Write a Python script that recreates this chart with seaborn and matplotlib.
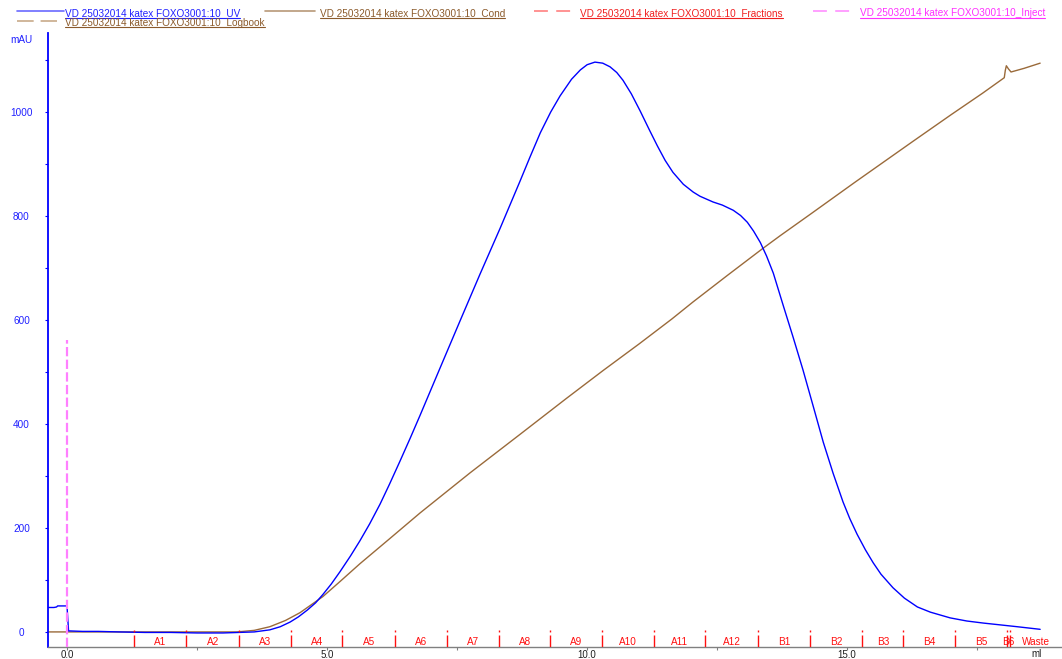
import matplotlib
matplotlib.use("Agg")
import matplotlib.pyplot as plt
from matplotlib.lines import Line2D
from matplotlib.transforms import IdentityTransform
from matplotlib.ticker import MultipleLocator, FixedLocator
import seaborn as sns
import pandas as pd

# ---- chromatogram data -------------------------------------------------
# UV absorbance trace (elution volume in ml, absorbance in mAU)
uv_ml = [-0.365, -0.25, -0.2, -0.18, -0.01, 0.0, 0.03, 0.3, 0.6, 1.0, 1.5,
         2.0, 2.5, 3.0, 3.3, 3.6, 3.9, 4.1, 4.29, 4.45, 4.62, 4.78, 4.92, 5.08,
         5.25, 5.45, 5.63, 5.82, 6.02, 6.20, 6.40, 6.60, 6.79, 7.17, 7.56,
         7.94, 8.33, 8.71, 8.90, 9.10, 9.30, 9.48, 9.70, 9.87, 10.0, 10.15,
         10.30, 10.44, 10.57, 10.69, 10.85, 11.02, 11.20, 11.35, 11.50, 11.65,
         11.85, 12.04, 12.17, 12.42, 12.60, 12.81, 12.95, 13.08, 13.20, 13.33,
         13.45, 13.58, 13.77, 13.96, 14.15, 14.35, 14.54, 14.73, 14.92, 15.05,
         15.19, 15.35, 15.50, 15.65, 15.88, 16.10, 16.35, 16.60, 16.98, 17.30,
         17.62, 17.90, 18.27, 18.71]
uv_mau = [47, 47, 48, 50, 50, 50, 2, 1, 1, 0, -1,
          -1, -2, -2, -1, 0, 4, 10, 19, 29, 42, 56, 72, 92,
          116, 146, 175, 208, 246, 284, 328, 373, 417, 507, 599,
          688, 777, 867, 913, 960, 1000, 1031, 1063, 1081, 1091, 1096,
          1094, 1087, 1076, 1061, 1035, 1002, 965, 935, 907, 884,
          861, 846, 838, 827, 821, 811, 801, 788, 771, 749,
          723, 690, 628, 567, 504, 433, 365, 305, 250, 218,
          188, 158, 133, 111, 85, 65, 48, 38, 27, 21,
          17, 14, 10, 5]

# Conductivity trace, drawn on the same scale
cond_ml = [-0.365, 1.0, 2.0, 3.0, 3.27, 3.6, 3.9, 4.2, 4.48, 4.92, 5.25, 5.63,
           6.2, 6.79, 7.75, 8.71, 9.6, 10.31, 11.0, 11.63, 12.04, 12.7, 13.37,
           13.71, 14.3, 15.15, 16.27, 17.0, 17.6, 18.02, 18.04, 18.06, 18.1,
           18.15, 18.4, 18.71]
cond_val = [0, 0, 0, 0, 0, 3, 10, 22, 37, 68, 97, 131,
            179, 229, 306, 380, 449, 503, 554, 602, 635, 686, 737,
            762, 804, 865, 944, 995, 1036, 1066, 1080, 1089, 1083,
            1077, 1084, 1094]

# Fraction boundaries and fraction names
frac_ml = [1.29, 2.29, 3.31, 4.31, 5.29, 6.31, 7.31, 8.31, 9.29, 10.29,
           11.29, 12.27, 13.29, 14.29, 15.29, 16.08, 17.08, 18.08, 18.13]
frac_names = ["A1", "A2", "A3", "A4", "A5", "A6", "A7", "A8", "A9", "A10",
              "A11", "A12", "B1", "B2", "B3", "B4", "B5", "B6", "Waste"]

# Sample injection mark
inject_ml = 0.0
inject_top = 561

run_name = "VD 25032014 katex FOXO3001:10"
curve_names = ["UV", "Cond", "Fractions", "Inject", "Logbook"]

# ---- style ---------------------------------------------------------------
sns.set_theme(style="white")
plt.rcParams["font.family"] = ["Liberation Sans", "DejaVu Sans"]
plt.rcParams["lines.scale_dashes"] = False

UV_COLOR = "#0000ff"
COND_COLOR = "#9a6a3a"
FRAC_COLOR = "#ff1010"
INJ_COLOR = "#ff80ff"
AXIS_BLUE = "#2020ff"
FS = 7.2

W, H = 1062, 659
fig = plt.figure(figsize=(W / 100, H / 100), dpi=100)
fig.patch.set_facecolor("white")
ax = fig.add_axes([48 / W, 12 / H, 1 - 48 / W, (647 - 33) / H])
ax.set_facecolor("white")

X0, X1 = -0.365, 19.13
Y0, Y1 = -29, 1152

# ---- traces --------------------------------------------------------------
uv_df = pd.DataFrame({"ml": uv_ml, "mAU": uv_mau})
cond_df = pd.DataFrame({"ml": cond_ml, "value": cond_val})
sns.lineplot(data=cond_df, x="ml", y="value", ax=ax, color=COND_COLOR,
             linewidth=1.0, estimator=None, sort=False)
sns.lineplot(data=uv_df, x="ml", y="mAU", ax=ax, color=UV_COLOR,
             linewidth=1.0, estimator=None, sort=False)

# injection mark
ax.plot([inject_ml, inject_ml], [Y0, inject_top], color=INJ_COLOR,
        linewidth=1.6, linestyle=(0, (6.7, 2.4)), zorder=4)

# fraction marks (drawn from the top down) and their names
mark_top = 4
for x in frac_ml:
    ax.plot([x, x], [mark_top, Y0], color=FRAC_COLOR, linewidth=1.0,
            linestyle=(0, (1.4, 2.2, 30, 2)), zorder=3)
bounds = frac_ml + [X1]
for name, a, b in zip(frac_names, bounds[:-1], bounds[1:]):
    ax.text((a + b) / 2, -19, name, ha="center", va="center",
            fontsize=FS, color=FRAC_COLOR, zorder=5)

# ---- axes ----------------------------------------------------------------
ax.set_xlim(X0, X1)
ax.set_ylim(Y0, Y1)
ax.set_xlabel("")
ax.set_ylabel("")
for side in ("top", "right"):
    ax.spines[side].set_visible(False)
ax.spines["left"].set_color("#0000ff")
ax.spines["left"].set_linewidth(1.3)
ax.spines["bottom"].set_color("#808080")
ax.spines["bottom"].set_linewidth(1.0)

ax.xaxis.set_major_locator(FixedLocator([0, 5, 10, 15]))
ax.xaxis.set_minor_locator(FixedLocator([2.5, 7.5, 12.5, 17.5]))
ax.set_xticklabels(["0.0", "5.0", "10.0", "15.0"])
ax.yaxis.set_major_locator(MultipleLocator(200))
ax.yaxis.set_minor_locator(MultipleLocator(100))
ax.set_yticks([0, 200, 400, 600, 800, 1000])
ax.set_yticklabels(["0", "200", "400", "600", "800", "1000"])

ax.tick_params(axis="x", which="both", direction="out", length=1.8, width=0.8,
               color="#808080", labelsize=7.0, labelcolor="#202020", pad=0.3,
               bottom=True)
ax.tick_params(axis="y", which="both", direction="out", length=2.2, width=0.8,
               color="#0000ff", labelsize=FS, labelcolor=AXIS_BLUE, pad=16.9,
               left=True)
for lbl in ax.get_yticklabels():
    lbl.set_horizontalalignment("center")

fig.text(21.5 / W, 1 - 40 / H, "mAU", ha="center", va="center",
         fontsize=FS, color=AXIS_BLUE)
fig.text(1037 / W, 1 - 654 / H, "ml", ha="center", va="center",
         fontsize=7.0, color="#202020")

# ---- curve key along the top -----------------------------------------------
def px(x, y):
    return x / W, 1 - y / H

key = [
    # name, text colour, line colour, line style, line x-range, text x, row baseline, line y
    (curve_names[0], "#2020ff", "#6a6aff", "-", (17, 64), 65, 16.5, 11),
    (curve_names[1], "#8b5a2b", "#b89878", "-", (265, 315), 320, 16.5, 11),
    (curve_names[2], "#f02020", "#ff8080", (0, (10, 6)), (534, 573), 580, 16.5, 11),
    (curve_names[3], "#ff30ff", "#ff90ff", (0, (10, 6)), (813, 853), 860, 16.5, 11),
    (curve_names[4], "#8b5a2b", "#c8aa8a", (0, (12, 5)), (17, 57), 65, 26.0, 21),
]
texts = []
for name, tcol, lcol, ls, (lx0, lx1), tx, base, ly in key:
    fig.add_artist(Line2D([lx0 / W, lx1 / W], [1 - ly / H, 1 - ly / H],
                          transform=fig.transFigure, color=lcol,
                          linewidth=1.2, linestyle=ls))
    t = fig.text(*px(tx, base), f"{run_name}_{name}", ha="left",
                 va="baseline", fontsize=FS, color=tcol)
    texts.append((t, tcol, base))

fig.canvas.draw()
renderer = fig.canvas.get_renderer()
for t, tcol, base in texts:
    bb = t.get_window_extent(renderer)
    x1 = min(bb.x1, W)
    yline = H - (base + 1.2)
    fig.add_artist(Line2D([bb.x0, x1], [yline, yline],
                          transform=IdentityTransform(), color=tcol,
                          linewidth=0.8))

fig.savefig("out.png", dpi=100, facecolor="white")
